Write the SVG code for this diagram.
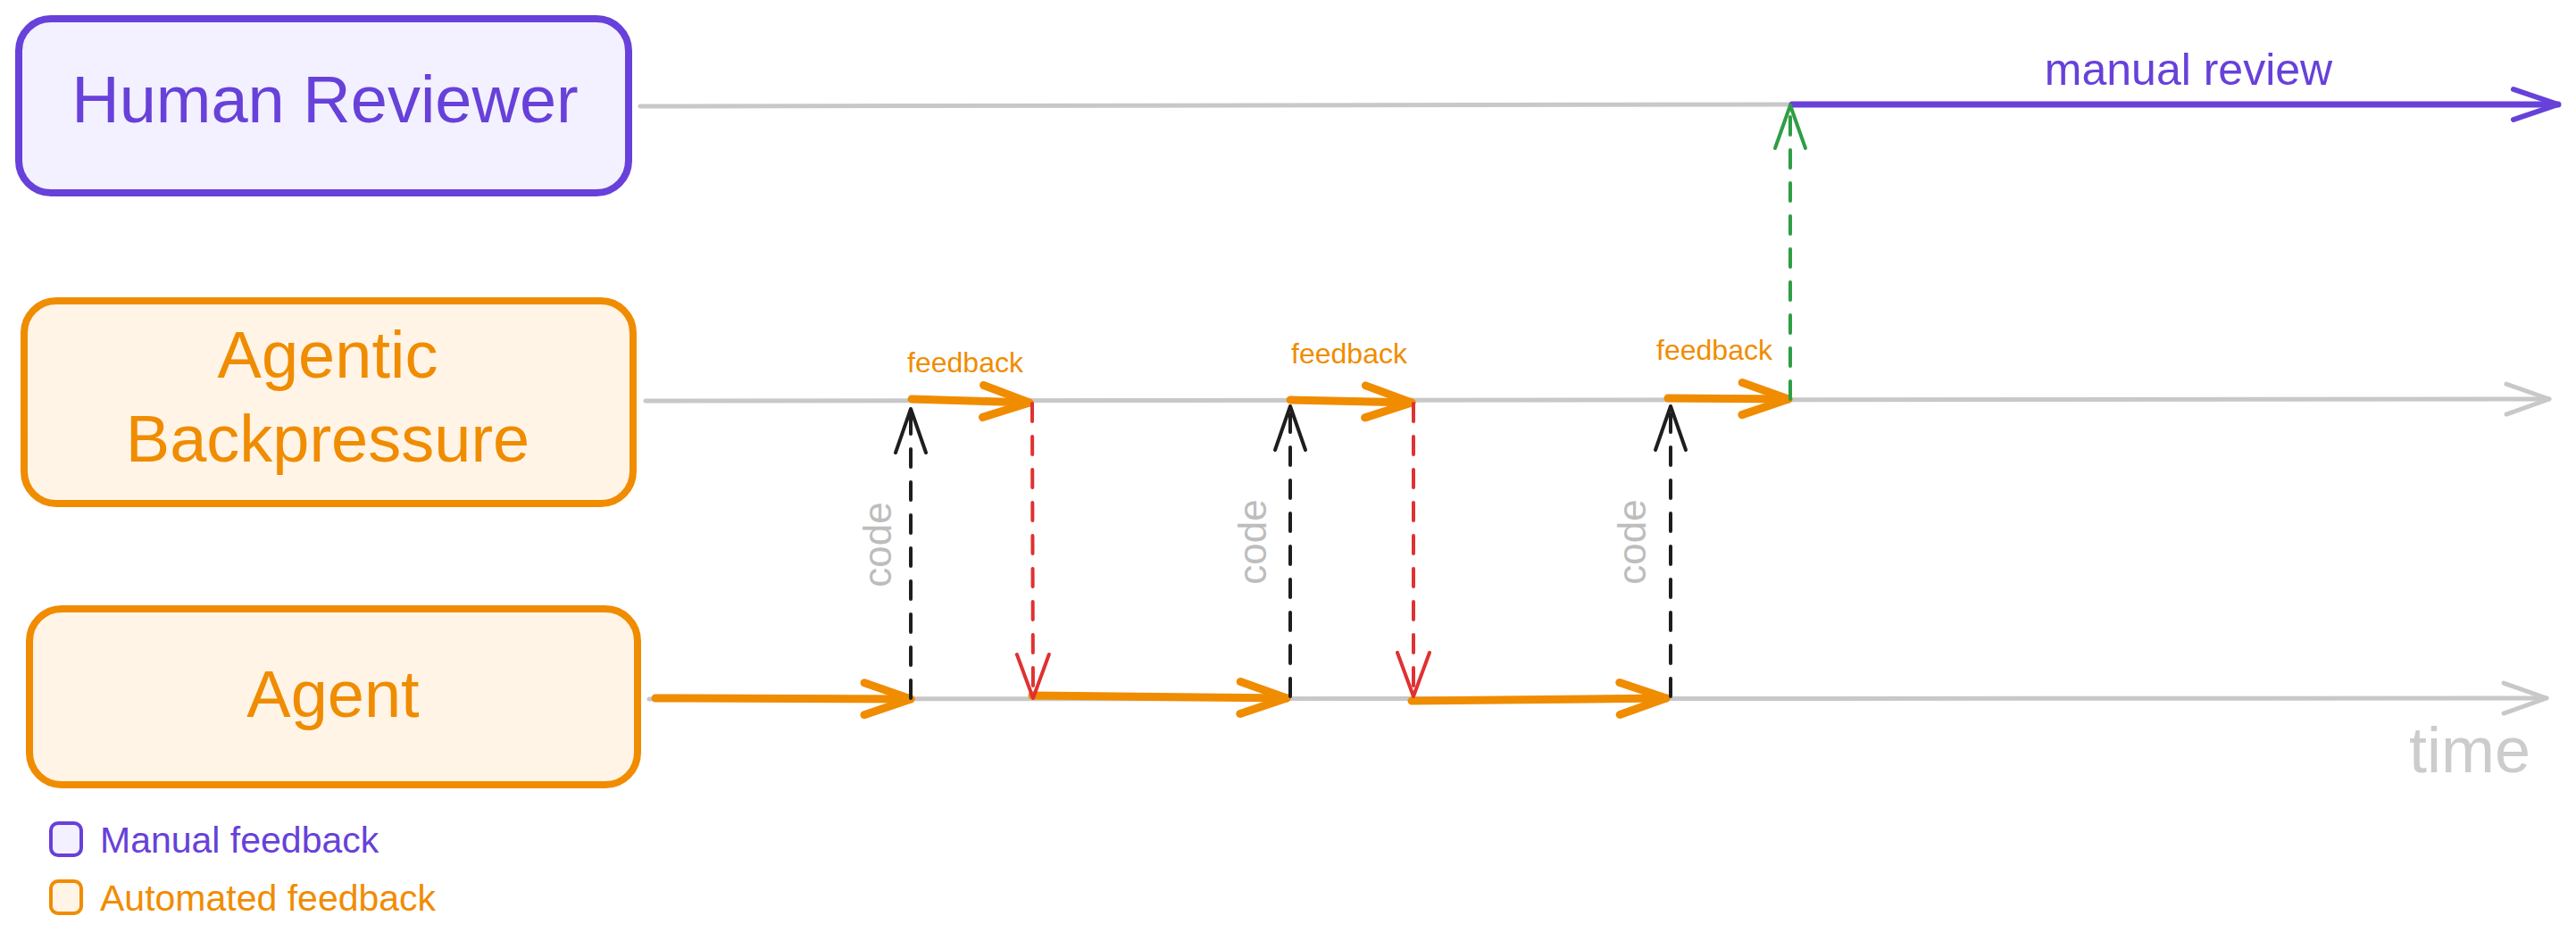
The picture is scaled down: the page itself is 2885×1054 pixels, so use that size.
<svg xmlns="http://www.w3.org/2000/svg" width="2885" height="1054" viewBox="0 0 2885 1054">
<style>
text{font-family:"Liberation Sans",Arial,sans-serif}
.title{font-size:74px;text-anchor:middle}
.purple{fill:#6741d9}
.orange{fill:#f08c00}
.boxP{fill:#f3f0ff;stroke:#6741d9;stroke-width:8}
.boxO{fill:#fff4e6;stroke:#f08c00;stroke-width:8}
.lgP{fill:#f3f0ff;stroke:#6741d9;stroke-width:4}
.lgO{fill:#fff4e6;stroke:#f08c00;stroke-width:4}
.legend{font-size:41px}
.fb{font-size:32px;text-anchor:middle;fill:#f08c00}
.code{font-size:44px;text-anchor:middle;fill:#bdbdbd}
.time{font-size:72px;text-anchor:middle;fill:#cccccc}
.mr{font-size:50px;text-anchor:middle;fill:#6741d9}
.axis{fill:none;stroke:#c8c8c8;stroke-width:5;stroke-linecap:round}
.flow{fill:none;stroke:#f08c00;stroke-width:9;stroke-linecap:round}
.manual{fill:none;stroke:#6741d9;stroke-width:7;stroke-linecap:round}
.dash{fill:none;stroke-width:4;stroke-linecap:round;stroke-dasharray:20 17}
.k{stroke:#1e1e1e}
.r{stroke:#e03131}
.g{stroke:#2f9e44}
</style>
<defs>
<marker id="hO" markerUnits="userSpaceOnUse" orient="auto" overflow="visible" refX="0" refY="0"><path d="M-52,-18 L0,0 L-52,18" fill="none" stroke="#f08c00" stroke-width="9" stroke-linecap="round" stroke-linejoin="round"/></marker>
<marker id="hG" markerUnits="userSpaceOnUse" orient="auto" overflow="visible" refX="0" refY="0"><path d="M-48,-17 L0,0 L-48,17" fill="none" stroke="#c8c8c8" stroke-width="5" stroke-linecap="round" stroke-linejoin="round"/></marker>
<marker id="hP" markerUnits="userSpaceOnUse" orient="auto" overflow="visible" refX="0" refY="0"><path d="M-50,-17 L0,0 L-50,17" fill="none" stroke="#6741d9" stroke-width="6" stroke-linecap="round" stroke-linejoin="round"/></marker>
<marker id="hK" markerUnits="userSpaceOnUse" orient="auto" overflow="visible" refX="0" refY="0"><path d="M-49,-17 L0,0 L-49,17" fill="none" stroke="#1e1e1e" stroke-width="4" stroke-linecap="round" stroke-linejoin="round"/></marker>
<marker id="hR" markerUnits="userSpaceOnUse" orient="auto" overflow="visible" refX="0" refY="0"><path d="M-49,-18 L0,0 L-49,18" fill="none" stroke="#e03131" stroke-width="4" stroke-linecap="round" stroke-linejoin="round"/></marker>
<marker id="hN" markerUnits="userSpaceOnUse" orient="auto" overflow="visible" refX="0" refY="0"><path d="M-48,-17 L0,0 L-48,17" fill="none" stroke="#2f9e44" stroke-width="4" stroke-linecap="round" stroke-linejoin="round"/></marker>
</defs>

<g id="human-reviewer">
<rect class="boxP" x="21" y="21" width="683" height="195" rx="36"/>
<text class="title purple" x="364" y="137">Human Reviewer</text>
</g>
<g id="agentic-backpressure">
<rect class="boxO" x="27" y="337" width="682" height="227" rx="36"/>
<text class="title orange" x="367" y="423">Agentic</text>
<text class="title orange" x="367" y="517">Backpressure</text>
</g>
<g id="agent">
<rect class="boxO" x="33" y="682" width="681" height="197" rx="36"/>
<text class="title orange" x="373" y="803">Agent</text>
</g>

<g id="legend">
<rect class="lgP" x="57" y="922" width="34" height="36" rx="8"/>
<text class="legend purple" x="112" y="955">Manual feedback</text>
<rect class="lgO" x="57" y="987" width="34" height="36" rx="8"/>
<text class="legend orange" x="112" y="1020">Automated feedback</text>
</g>

<g id="connectors">
<!-- timelines -->
<path class="axis" d="M717,119 L2007,117"/>
<path class="manual" d="M2007,117 L2865,117" marker-end="url(#hP)"/>
<path class="axis" d="M723,449 L2855,447" marker-end="url(#hG)"/>
<path class="axis" d="M727,783 L2852,782" marker-end="url(#hG)"/>

<!-- agent work arrows -->
<path class="flow" d="M734,782 L1020,783" marker-end="url(#hO)"/>
<path class="flow" d="M1156,779 L1441,782" marker-end="url(#hO)"/>
<path class="flow" d="M1581,785 L1866,782" marker-end="url(#hO)"/>

<!-- feedback arrows on backpressure line -->
<path class="flow" d="M1021,447 L1153,451" marker-end="url(#hO)"/>
<path class="flow" d="M1445,448 L1581,451" marker-end="url(#hO)"/>
<path class="flow" d="M1868,446 L2003,447" marker-end="url(#hO)"/>

<!-- code submissions -->
<path class="dash k" d="M1020,782 L1020,458" marker-end="url(#hK)"/>
<path class="dash k" d="M1445,780 L1445,455" marker-end="url(#hK)"/>
<path class="dash k" d="M1871,780 L1871,455" marker-end="url(#hK)"/>

<!-- rejection feedback -->
<path class="dash r" d="M1156,452 L1157,782" marker-end="url(#hR)"/>
<path class="dash r" d="M1583,452 L1583,780" marker-end="url(#hR)"/>

<!-- escalation -->
<path class="dash g" d="M2005,447 L2005,118" marker-end="url(#hN)"/>

<!-- labels -->
<text class="fb" x="1081" y="417">feedback</text>
<text class="fb" x="1511" y="407">feedback</text>
<text class="fb" x="1920" y="403">feedback</text>
<text class="code" transform="translate(998,610) rotate(-90)" x="0" y="0">code</text>
<text class="code" transform="translate(1418,607) rotate(-90)" x="0" y="0">code</text>
<text class="code" transform="translate(1843,607) rotate(-90)" x="0" y="0">code</text>
<text class="mr" x="2451" y="95">manual review</text>
<text class="time" x="2766" y="865">time</text>
</g>
</svg>
